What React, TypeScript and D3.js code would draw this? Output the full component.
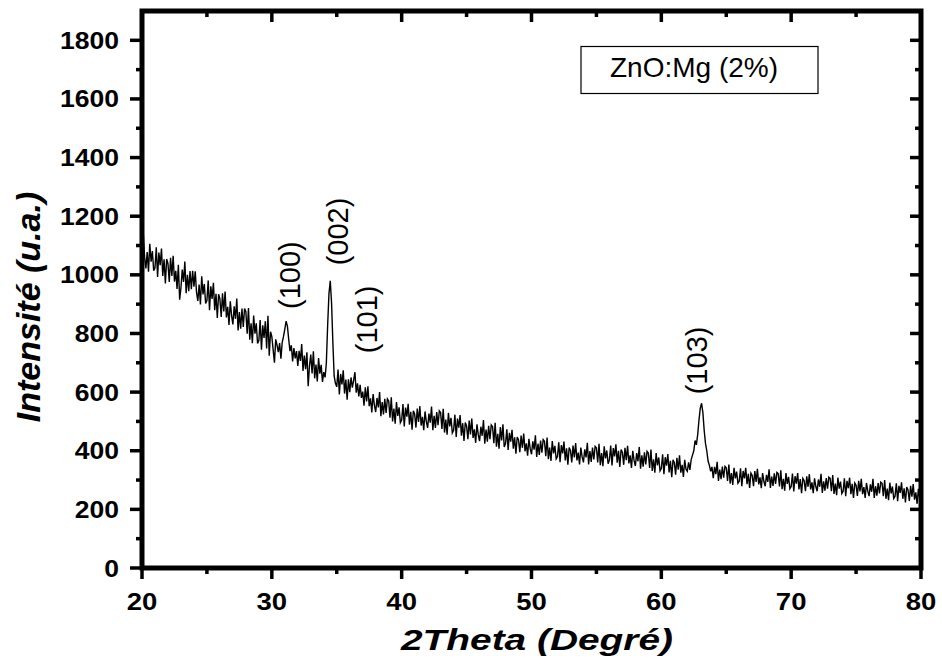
import React from "react";
import * as d3 from "d3";

// ---- data ----
const ANGLE_START = 20;
const ANGLE_STEP = 0.1;
// Intensity (u.a.) read every 0.1° from 20° to 80°
const INTENSITY: number[] = [
  // 20
  1114, 1140, 1060, 1022, 1078, 1011, 1106, 1045, 1081, 1014,
  // 21
  1024, 1094, 993, 1076, 1033, 1090, 996, 1053, 971, 1054,
  // 22
  1038, 976, 1058, 996, 1065, 977, 1014, 952, 1034, 915,
  // 23
  956, 1018, 976, 1045, 937, 1000, 944, 1013, 951, 1014,
  // 24
  960, 1012, 940, 911, 967, 899, 995, 933, 969, 902,
  // 25
  912, 981, 879, 961, 918, 973, 879, 935, 853, 934,
  // 26
  918, 856, 937, 875, 943, 855, 891, 829, 910, 861,
  // 27
  831, 893, 850, 919, 810, 873, 816, 885, 822, 885,
  // 28
  874, 799, 887, 779, 835, 767, 861, 799, 835, 766,
  // 29
  776, 846, 745, 828, 785, 842, 749, 860, 724, 806,
  // 30
  789, 745, 700, 780, 760, 736, 767, 714, 770, 790,
  // 31
  815, 842, 825, 780, 740, 760, 705, 750, 715, 740,
  // 32
  689, 741, 706, 764, 672, 725, 678, 736, 620, 690,
  // 33
  728, 664, 739, 647, 694, 636, 716, 663, 693, 635,
  // 34
  668, 650, 700, 830, 935, 980, 905, 770, 655, 630,
  // 35
  618, 677, 592, 662, 626, 674, 595, 643, 574, 644,
  // 36
  600, 650, 615, 640, 668, 598, 630, 585, 625, 580,
  // 37
  602, 554, 616, 568, 620, 552, 579, 531, 593, 555,
  // 38
  532, 580, 548, 600, 518, 566, 524, 577, 529, 577,
  // 39
  570, 513, 582, 500, 544, 492, 566, 519, 548, 496,
  // 40
  505, 559, 483, 547, 516, 560, 489, 533, 472, 536,
  // 41
  525, 479, 544, 498, 552, 486, 516, 470, 534, 499,
  // 42
  478, 527, 496, 551, 470, 519, 478, 532, 487, 536,
  // 43
  530, 474, 543, 462, 506, 455, 529, 483, 512, 461,
  // 44
  470, 523, 447, 510, 479, 522, 451, 494, 433, 496,
  // 45
  485, 439, 503, 456, 510, 444, 473, 427, 490, 454,
  // 46
  433, 482, 451, 505, 424, 472, 431, 485, 439, 488,
  // 47
  482, 426, 495, 414, 458, 407, 481, 435, 490, 413,
  // 48
  424, 473, 403, 461, 431, 471, 407, 446, 390, 447,
  // 49
  437, 395, 452, 410, 459, 398, 425, 383, 441, 407,
  // 50
  388, 432, 404, 453, 379, 424, 386, 435, 393, 438,
  // 51
  432, 381, 445, 371, 411, 365, 433, 391, 417, 372,
  // 52
  380, 429, 361, 419, 391, 431, 367, 408, 352, 411,
  // 53
  401, 360, 418, 377, 426, 367, 394, 353, 411, 379,
  // 54
  360, 405, 377, 427, 353, 399, 362, 411, 370, 415,
  // 55
  410, 360, 424, 351, 392, 347, 415, 374, 401, 356,
  // 56
  368, 418, 350, 409, 381, 422, 359, 400, 345, 404,
  // 57
  394, 352, 410, 368, 417, 357, 384, 341, 400, 367,
  // 58
  348, 392, 364, 413, 339, 384, 346, 395, 353, 398,
  // 59
  392, 341, 404, 331, 371, 325, 392, 350, 377, 331,
  // 60
  339, 388, 320, 378, 349, 389, 326, 366, 310, 369,
  // 61
  359, 318, 376, 335, 384, 325, 352, 311, 369, 337,
  // 62
  330, 360, 335, 370, 385, 400, 435, 420, 455, 505,
  // 63
  545, 562, 530, 470, 425, 400, 365, 350, 330, 345,
  // 64
  306, 345, 320, 362, 297, 336, 303, 346, 308, 347,
  // 65
  342, 297, 353, 288, 324, 283, 342, 306, 329, 289,
  // 66
  296, 340, 279, 331, 306, 342, 286, 321, 273, 324,
  // 67
  316, 279, 331, 294, 338, 285, 309, 272, 324, 295,
  // 68
  279, 318, 294, 337, 273, 312, 280, 323, 287, 326,
  // 69
  322, 278, 333, 269, 304, 264, 324, 287, 311, 270,
  // 70
  278, 322, 261, 313, 288, 324, 268, 303, 255, 306,
  // 71
  298, 262, 313, 277, 320, 268, 292, 255, 306, 278,
  // 72
  262, 302, 277, 321, 256, 296, 264, 307, 271, 310,
  // 73
  306, 262, 317, 253, 288, 248, 308, 271, 295, 254,
  // 74
  262, 306, 245, 297, 272, 308, 252, 287, 239, 290,
  // 75
  282, 246, 297, 261, 304, 252, 276, 239, 290, 262,
  // 76
  245, 285, 260, 304, 239, 279, 247, 290, 254, 293,
  // 77
  289, 245, 300, 236, 271, 231, 291, 254, 278, 237,
  // 78
  245, 289, 228, 280, 256, 292, 236, 272, 224, 276,
  // 79
  266, 229, 280, 243, 286, 233, 258, 219, 270, 239,
  // 80
  245,
];

const X_TICKS = [20, 30, 40, 50, 60, 70, 80];
const X_MINOR = [25, 35, 45, 55, 65, 75];
const Y_TICKS = [0, 200, 400, 600, 800, 1000, 1200, 1400, 1600, 1800];
const Y_MINOR = [100, 300, 500, 700, 900, 1100, 1300, 1500, 1700];

const PEAK_LABELS = ["(100)", "(002)", "(101)", "(103)"];
// label anchor (baseline position) in data units
const PEAK_LABEL_ANGLE = [32.17, 35.87, 38.1, 63.52];
const PEAK_LABEL_LEVEL = [999, 1148, 848, 708];

const LEGEND_TEXT = "ZnO:Mg (2%)";
const X_TITLE = "2Theta (Degré)";
const Y_TITLE = "Intensité (u.a.)";

const FONT = "'Liberation Sans', Arial, Helvetica, sans-serif";

export default function App() {
  const W = 942;
  const H = 669;
  const left = 142, right = 921, top = 11, bottom = 568;
  const x = d3.scaleLinear().domain([20, 80]).range([left, right]);
  const y = d3.scaleLinear().domain([0, 1900]).range([bottom, top]);

  const points: [number, number][] = INTENSITY.map((v, i) => [
    ANGLE_START + i * ANGLE_STEP,
    v,
  ]);
  const line = d3
    .line<[number, number]>()
    .x((d) => x(d[0]))
    .y((d) => y(d[1]));

  const axisStyle = { stroke: "#000", strokeWidth: "5px", fill: "none" };
  const tickStyle = { stroke: "#000", strokeWidth: "3.5px" };

  return (
    <svg
      width={W}
      height={H}
      viewBox={`0 0 ${W} ${H}`}
      style={{ position: "absolute", left: 0, top: 0, background: "#fff" }}
    >
      <rect x={0} y={0} width={W} height={H} fill="#fff" />
      <defs>
        <clipPath id="plotclip">
          <rect x={left} y={top} width={right - left} height={bottom - top} />
        </clipPath>
      </defs>

      {/* data line */}
      <path
        d={line(points) || ""}
        style={{ fill: "none", stroke: "#000", strokeWidth: "1.4px" }}
        clipPath="url(#plotclip)"
      />

      {/* frame */}
      <path
        d={`M${left},${top}H${right}V${bottom}H${left}Z`}
        style={axisStyle}
        strokeLinejoin="miter"
      />

      {/* bottom ticks (outward) and top ticks (inward) */}
      {X_TICKS.map((t) => (
        <g key={"xt" + t}>
          <line x1={x(t)} x2={x(t)} y1={bottom} y2={bottom + 11} style={tickStyle} />
          <line x1={x(t)} x2={x(t)} y1={top} y2={top + 11} style={tickStyle} />
          <text
            x={x(t)}
            y={610}
            textAnchor="middle"
            fontFamily={FONT}
            fontWeight="bold"
            fontSize={24}
            textLength={String(t).length * 15.3}
            lengthAdjust="spacingAndGlyphs"
          >
            {t}
          </text>
        </g>
      ))}
      {X_MINOR.map((t) => (
        <g key={"xm" + t}>
          <line x1={x(t)} x2={x(t)} y1={bottom} y2={bottom + 6} style={tickStyle} />
          <line x1={x(t)} x2={x(t)} y1={top} y2={top + 6} style={tickStyle} />
        </g>
      ))}

      {/* left ticks (outward) and right ticks (inward) */}
      {Y_TICKS.map((t) => (
        <g key={"yt" + t}>
          <line x1={left - 12} x2={left} y1={y(t)} y2={y(t)} style={tickStyle} />
          <line x1={right - 11} x2={right} y1={y(t)} y2={y(t)} style={tickStyle} />
          <text
            x={119}
            y={y(t) + 8.5}
            textAnchor="end"
            fontFamily={FONT}
            fontWeight="bold"
            fontSize={24}
            textLength={String(t).length * 14.75}
            lengthAdjust="spacingAndGlyphs"
          >
            {t}
          </text>
        </g>
      ))}
      {Y_MINOR.map((t) => (
        <g key={"ym" + t}>
          <line x1={left - 6} x2={left} y1={y(t)} y2={y(t)} style={tickStyle} />
          <line x1={right - 6} x2={right} y1={y(t)} y2={y(t)} style={tickStyle} />
        </g>
      ))}

      {/* axis titles */}
      <text
        x={537}
        y={650}
        textAnchor="middle"
        fontFamily={FONT}
        fontWeight="bold"
        fontStyle="italic"
        fontSize={30}
        textLength={272}
        lengthAdjust="spacingAndGlyphs"
      >
        {X_TITLE}
      </text>
      <text
        transform={`translate(40, 307) rotate(-90)`}
        textAnchor="middle"
        fontFamily={FONT}
        fontWeight="bold"
        fontStyle="italic"
        fontSize={34}
      >
        {Y_TITLE}
      </text>

      {/* peak labels */}
      {PEAK_LABELS.map((lab, i) => (
        <text
          key={lab}
          transform={`translate(${x(PEAK_LABEL_ANGLE[i])}, ${y(PEAK_LABEL_LEVEL[i])}) rotate(-90)`}
          textAnchor="middle"
          fontFamily={FONT}
          fontSize={29}
        >
          {lab}
        </text>
      ))}

      {/* legend */}
      <rect x={581} y={46.5} width={237} height={47} style={{ fill: "#fff", stroke: "#000", strokeWidth: "1.2px" }} />
      <text x={694} y={77} textAnchor="middle" fontFamily={FONT} fontSize={28}>
        {LEGEND_TEXT}
      </text>
    </svg>
  );
}
